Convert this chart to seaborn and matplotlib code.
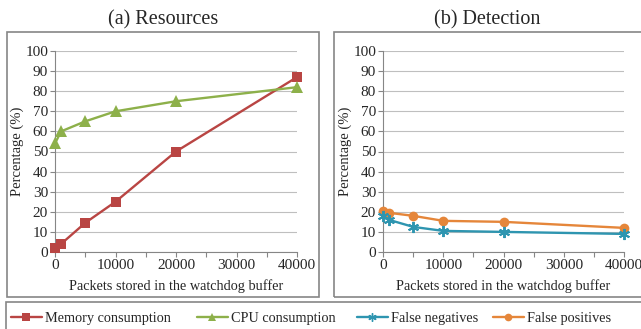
import matplotlib
matplotlib.use("Agg")
import matplotlib.pyplot as plt
import seaborn as sns
import pandas as pd
from matplotlib.patches import Rectangle
from matplotlib.lines import Line2D

sns.set_theme(style="white")
plt.rcParams['font.family'] = ['Liberation Serif', 'DejaVu Serif']

# ---- data ----
packets = [0, 1000, 5000, 10000, 20000, 40000]
memory = [2, 4, 14.5, 25, 50, 87]
cpu = [54, 60, 65, 70, 75, 82]
false_neg = [18, 16, 12.5, 10.5, 10, 9]
false_pos = [20.5, 19.5, 18, 15.5, 15, 12]

titles = ["(a) Resources", "(b) Detection"]
xlabel = "Packets stored in the watchdog buffer"
ylabel = "Percentage (%)"
xticks = [0, 10000, 20000, 30000, 40000]
yticks = list(range(0, 101, 10))
legend_labels = ["Memory consumption", "CPU consumption", "False negatives", "False positives"]

c_mem = "#B94543"
c_cpu = "#8DB04A"
c_fn = "#2E95B0"
c_fp = "#E5863A"

W, H = 641, 329
fig = plt.figure(figsize=(W / 100, H / 100), dpi=100)

def px_axes(x0, y0, x1, y1):
    return fig.add_axes([x0 / W, (H - y1) / H, (x1 - x0) / W, (y1 - y0) / H])

ax1 = px_axes(55, 51, 297, 252)
ax2 = px_axes(383, 51, 624, 252)

df1 = pd.DataFrame({"x": packets, "mem": memory, "cpu": cpu})
df2 = pd.DataFrame({"x": packets, "fn": false_neg, "fp": false_pos})

sns.lineplot(data=df1, x="x", y="mem", ax=ax1, color=c_mem, marker="s",
             markersize=7, markeredgewidth=0, linewidth=1.7, clip_on=False, zorder=4)
sns.lineplot(data=df1, x="x", y="cpu", ax=ax1, color=c_cpu, marker="^",
             markersize=8, markeredgewidth=0, linewidth=1.7, clip_on=False, zorder=4)
sns.lineplot(data=df2, x="x", y="fp", ax=ax2, color=c_fp, marker="o",
             markersize=7, markeredgewidth=0, linewidth=1.7, clip_on=False, zorder=4)
sns.lineplot(data=df2, x="x", y="fn", ax=ax2, color=c_fn, marker=(6, 2, 0),
             markersize=8, markeredgewidth=1.4, markeredgecolor=c_fn, linewidth=1.7,
             clip_on=False, zorder=4)

for ax, t in zip([ax1, ax2], titles):
    ax.set_xlim(0, 40000)
    ax.set_ylim(0, 100)
    ax.set_xticks(xticks)
    ax.set_xticks(range(0, 40001, 5000), minor=True)
    ax.set_yticks(yticks)
    ax.set_xticklabels([str(v) for v in xticks], fontsize=11)
    ax.set_yticklabels([str(v) for v in yticks], fontsize=11)
    ax.tick_params(axis="both", which="both", direction="out", length=3.5,
                   width=0.8, color="#868686", pad=1.5, bottom=True, left=True)
    ax.yaxis.grid(True, color="#BFBFBF", linewidth=0.8)
    ax.xaxis.grid(False)
    for s in ["top", "right"]:
        ax.spines[s].set_visible(False)
    for s in ["left", "bottom"]:
        ax.spines[s].set_color("#868686")
        ax.spines[s].set_linewidth(0.8)
    ax.set_xlabel(xlabel, fontsize=10.3, labelpad=5)
    ax.set_ylabel(ylabel, fontsize=10.5, labelpad=1)
    ax.set_facecolor("none")

fig.text(163 / W, 1 - 20 / H, titles[0], ha="center", va="center", fontsize=14.5)
fig.text(487 / W, 1 - 20 / H, titles[1], ha="center", va="center", fontsize=14.5)

def px_rect(x0, y0, x1, y1):
    r = Rectangle((x0 / W, (H - y1) / H), (x1 - x0) / W, (y1 - y0) / H,
                  transform=fig.transFigure, fill=False, edgecolor="#868686",
                  linewidth=1.2, zorder=0)
    fig.patches.append(r)

px_rect(7, 32, 319, 297)
px_rect(334, 32, 660, 297)
px_rect(6, 302, 660, 340)

handles = [
    Line2D([], [], color=c_mem, marker="s", markersize=5.5, markeredgewidth=0, linewidth=1.7),
    Line2D([], [], color=c_cpu, marker="^", markersize=6, markeredgewidth=0, linewidth=1.7),
    Line2D([], [], color=c_fn, marker=(6, 2, 0), markersize=6, markeredgewidth=1.0, linewidth=1.7),
    Line2D([], [], color=c_fp, marker="o", markersize=5.5, markeredgewidth=0, linewidth=1.7),
]
entry_x = [11, 197, 357, 493]
for h, lab, xs in zip(handles, legend_labels, entry_x):
    fig.legend([h], [lab], loc="center left", bbox_to_anchor=(xs / W, 1 - 318 / H),
               frameon=False, fontsize=10.3, handlelength=2.15, handletextpad=0.2,
               borderaxespad=0, borderpad=0)

fig.savefig("out.png", dpi=100)
